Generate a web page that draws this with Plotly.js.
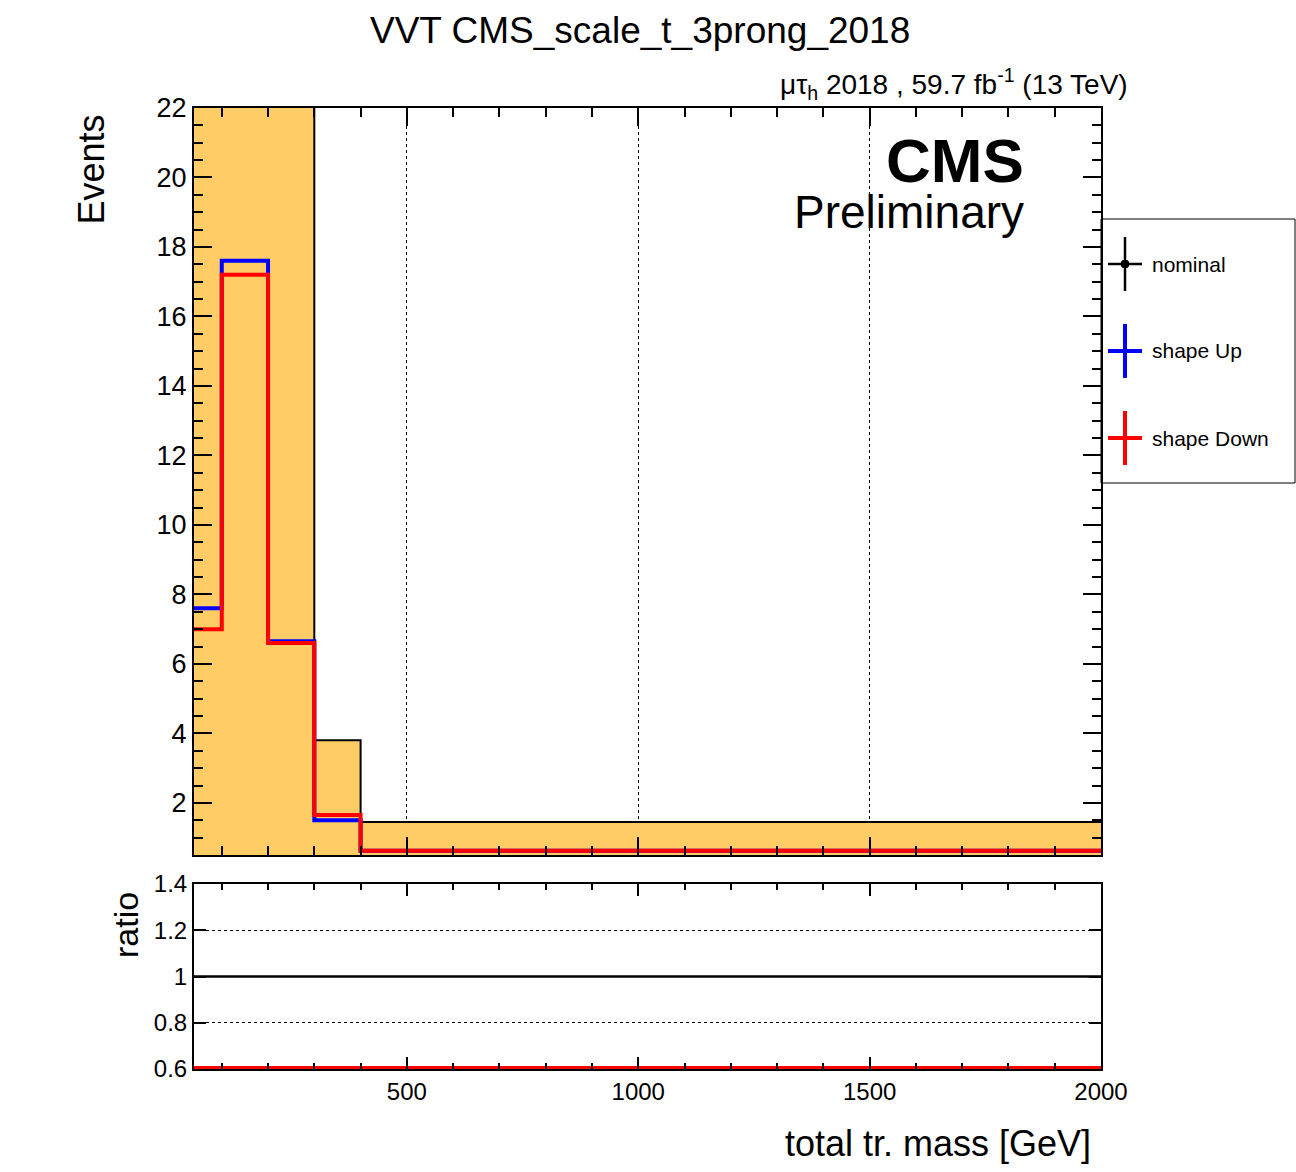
<!DOCTYPE html>
<html>
<head>
<meta charset="utf-8">
<script src="https://cdn.plot.ly/plotly-3.0.1.min.js"></script>
<style>body{margin:0;background:#fff}#plot{width:1296px;height:1172px}</style>
</head>
<body>
<div id="plot"></div>
<script>
// bin edges in GeV
var binEdges = [40, 100, 200, 300, 400, 2000];
// bin contents (nominal goes off the top in the first three bins)
var nominal = [24, 30, 23, 3.8, 1.45];
var shapeUp = [7.6, 17.6, 6.65, 1.5, 0.62];
var shapeDown = [7.0, 17.2, 6.6, 1.65, 0.62];

var ratioMin = 0.6, ratioMax = 1.4;

function stepY(vals) {
    // repeat the last value so hv steps reach the last edge
    return vals.concat([vals[vals.length - 1]]);
}

function ratioY(vals) {
    let out = [];
    for (let i = 0; i < vals.length; i++) {
        let r = vals[i] / nominal[i];
        // like ROOT, show off-scale values on the frame
        out.push(Math.min(ratioMax, Math.max(ratioMin + 0.004, r)));
    }
    return stepY(out);
}

var font = 'Liberation Sans, Arial, sans-serif';

var traces = [
    {x: binEdges, y: stepY(nominal), mode: 'lines', line: {shape: 'hv', color: 'black', width: 2},
     fill: 'tozeroy', fillcolor: '#ffcc66', xaxis: 'x', yaxis: 'y'},
    {x: binEdges, y: stepY(shapeUp), mode: 'lines', line: {shape: 'hv', color: '#0000ff', width: 4},
     xaxis: 'x', yaxis: 'y'},
    {x: binEdges, y: stepY(shapeDown), mode: 'lines', line: {shape: 'hv', color: '#ff0000', width: 4},
     xaxis: 'x', yaxis: 'y'},
    {x: binEdges, y: stepY(nominal.map(function () { return 1; })), mode: 'lines',
     line: {shape: 'hv', color: 'black', width: 2.5}, xaxis: 'x2', yaxis: 'y2'},
    {x: binEdges, y: ratioY(shapeUp), mode: 'lines', line: {shape: 'hv', color: '#0000ff', width: 4},
     xaxis: 'x2', yaxis: 'y2', cliponaxis: false},
    {x: binEdges, y: ratioY(shapeDown), mode: 'lines', line: {shape: 'hv', color: '#ff0000', width: 4},
     xaxis: 'x2', yaxis: 'y2', cliponaxis: false}
];

var xdom = [194 / 1296, 1101 / 1296];
var common = {showline: true, mirror: 'allticks', linecolor: 'black', linewidth: 2,
    ticks: 'inside', ticklen: 18, tickwidth: 2, tickcolor: 'black', zeroline: false};

var layout = {
    width: 1296, height: 1172,
    margin: {l: 0, r: 0, t: 0, b: 0},
    paper_bgcolor: 'white', plot_bgcolor: 'white',
    showlegend: false,
    font: {family: font, color: 'black'},
    xaxis: Object.assign({}, common, {domain: xdom, range: [40, 2000], dtick: 500, tick0: 0,
        showticklabels: false, showgrid: true, gridcolor: 'black', griddash: 'dot', gridwidth: 1,
        minor: {dtick: 100, ticklen: 9, tickcolor: 'black', ticks: 'inside'}, anchor: 'y'}),
    yaxis: Object.assign({}, common, {domain: [1 - 855 / 1172, 1 - 108 / 1172], range: [0.5, 22],
        tick0: 0, dtick: 2, showgrid: false, tickfont: {size: 27},
        minor: {dtick: 0.5, ticklen: 9, tickcolor: 'black', ticks: 'inside'}, anchor: 'x'}),
    xaxis2: Object.assign({}, common, {domain: xdom, range: [40, 2000], dtick: 500, tick0: 0,
        showgrid: false, tickfont: {size: 24}, ticklen: 12,
        minor: {dtick: 100, ticklen: 6, tickcolor: 'black', ticks: 'inside'}, anchor: 'y2'}),
    yaxis2: Object.assign({}, common, {domain: [1 - 1069 / 1172, 1 - 884 / 1172], range: [ratioMin, ratioMax],
        dtick: 0.2, tick0: 0, ticklen: 12, showgrid: true, gridcolor: 'black', griddash: 'dot', gridwidth: 1,
        tickfont: {size: 24}, anchor: 'x2'}),
    annotations: [
        {text: 'VVT CMS_scale_t_3prong_2018', x: 640 / 1296, y: 1 - 30 / 1172, font: {size: 37}},
        {text: 'μτ<sub>h</sub> 2018 , 59.7 fb<sup>-1</sup> (13 TeV)',
         x: 1130 / 1296, y: 1 - 84 / 1172, xanchor: 'right', font: {size: 28}},
        {text: '<b>CMS</b>', x: 1026 / 1296, y: 1 - 160 / 1172, xanchor: 'right', font: {size: 62}},
        {text: 'Preliminary', x: 1026 / 1296, y: 1 - 212 / 1172, xanchor: 'right', font: {size: 46}},
        {text: 'Events', x: 68 / 1296, y: 1 - 170 / 1172, textangle: -90, font: {size: 36}},
        {text: 'ratio', x: 105 / 1296, y: 1 - 925 / 1172, textangle: -90, font: {size: 34}},
        {text: 'total tr. mass [GeV]', x: 1093 / 1296, y: 1 - 1143 / 1172, xanchor: 'right', font: {size: 36}},
        {text: 'nominal', x: 1150 / 1296, y: 1 - 264 / 1172, xanchor: 'left', font: {size: 21}},
        {text: 'shape Up', x: 1150 / 1296, y: 1 - 351 / 1172, xanchor: 'left', font: {size: 21}},
        {text: 'shape Down', x: 1150 / 1296, y: 1 - 438 / 1172, xanchor: 'left', font: {size: 21}}
    ].map(function (a) {
        return Object.assign({xref: 'paper', yref: 'paper', yanchor: 'middle', showarrow: false}, a);
    }),
    shapes: []
};

// legend box and cross symbols
function px(x) { return x / 1296; }
function py(y) { return 1 - y / 1172; }
layout.shapes.push({type: 'rect', xref: 'paper', yref: 'paper', x0: px(1101), x1: px(1295),
    y0: py(483), y1: py(219), line: {color: 'black', width: 1}});
var legendRows = [[264, 'black', 2.5], [351, '#0000ff', 4], [438, '#ff0000', 4]];
legendRows.forEach(function (row) {
    layout.shapes.push({type: 'line', xref: 'paper', yref: 'paper', x0: px(1108), x1: px(1142),
        y0: py(row[0]), y1: py(row[0]), line: {color: row[1], width: row[2]}});
    layout.shapes.push({type: 'line', xref: 'paper', yref: 'paper', x0: px(1125), x1: px(1125),
        y0: py(row[0] - 27), y1: py(row[0] + 27), line: {color: row[1], width: row[2]}});
});
layout.shapes.push({type: 'circle', xref: 'paper', yref: 'paper', x0: px(1121), x1: px(1129),
    y0: py(268), y1: py(260), fillcolor: 'black', line: {color: 'black', width: 1}});

Plotly.newPlot('plot', traces, layout, {staticPlot: true});
</script>
</body>
</html>
